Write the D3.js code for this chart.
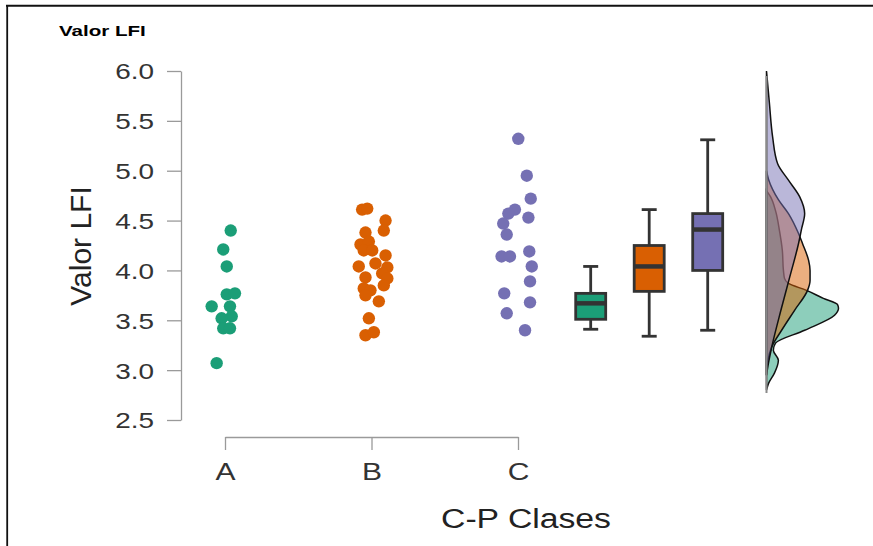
<!DOCTYPE html>
<html>
<head>
<meta charset="utf-8">
<script src="https://cdn.jsdelivr.net/npm/d3@7"></script>
<style>
    body { margin: 0; background: #fff; }
    #chart { width: 873px; height: 546px; }
    text { font-family: "Liberation Sans", Arial, sans-serif; }
</style>
</head>
<body>
<div id="chart"></div>
<script>

// classes and ticks
const categories = ["A", "B", "C"];
const yTicks = [2.5, 3.0, 3.5, 4.0, 4.5, 5.0, 5.5, 6.0];

// raw points: [jitter in class units, Valor LFI]
const pointsA = [
    [0.039, 4.40], [-0.012, 4.21], [0.012, 4.04], [0.012, 3.76], [0.068, 3.77],
    [-0.091, 3.64], [0.034, 3.64], [0.046, 3.54], [-0.023, 3.52], [-0.012, 3.42],
    [0.034, 3.42], [-0.057, 3.07]
];
const pointsB = [
    [-0.064, 4.61], [-0.029, 4.62], [0.096, 4.50], [0.084, 4.40], [-0.041, 4.38],
    [-0.075, 4.26], [-0.018, 4.29], [-0.053, 4.20], [0.005, 4.20], [0.096, 4.15],
    [-0.087, 4.04], [0.027, 4.07], [0.108, 4.03], [-0.041, 3.93], [0.073, 3.97],
    [0.108, 3.92], [0.084, 3.85], [-0.053, 3.82], [-0.007, 3.80], [-0.041, 3.75],
    [0.050, 3.69], [-0.018, 3.52], [-0.041, 3.35], [0.016, 3.38]
];
const pointsC = [
    [0.002, 5.32], [0.060, 4.95], [0.087, 4.72], [-0.021, 4.61], [-0.066, 4.57],
    [0.071, 4.53], [-0.101, 4.47], [-0.077, 4.36], [0.077, 4.19], [-0.112, 4.14],
    [-0.055, 4.14], [0.094, 4.04], [0.082, 3.89], [-0.094, 3.77], [0.082, 3.68],
    [-0.077, 3.57], [0.048, 3.40]
];

// box plot summaries (A, B, C)
const boxMin = [3.41, 3.34, 3.40];
const boxQ1 = [3.51, 3.79, 4.00];
const boxMedian = [3.67, 4.04, 4.41];
const boxQ3 = [3.77, 4.25, 4.57];
const boxMax = [4.04, 4.61, 5.31];

// density profiles: [Valor LFI, density]
const densityA = [
    [4.80, 0], [4.74, 0.11], [4.60, 0.25], [4.40, 0.36], [4.20, 0.44], [4.00, 0.47],
    [3.92, 0.50], [3.87, 0.61], [3.80, 1.11], [3.72, 1.58], [3.66, 1.97], [3.62, 2.00],
    [3.55, 1.89], [3.40, 1.06], [3.27, 0.25], [3.20, 0.19], [3.10, 0.33], [2.97, 0.22],
    [2.87, 0.06], [2.80, 0]
];
const densityB = [
    [5.00, 0], [4.91, 0.06], [4.71, 0.33], [4.57, 0.61], [4.37, 0.89], [4.27, 1.00],
    [4.10, 1.17], [4.00, 1.21], [3.90, 1.21], [3.80, 1.14], [3.60, 0.78], [3.40, 0.42],
    [3.23, 0.14], [3.10, 0.04], [2.95, 0]
];
const densityC = [
    [6.00, 0], [5.68, 0.08], [5.34, 0.17], [5.07, 0.31], [4.91, 0.60], [4.74, 0.92],
    [4.57, 1.06], [4.41, 0.97], [4.27, 0.89], [3.94, 0.65], [3.60, 0.40], [3.27, 0.17],
    [3.10, 0.07], [2.95, 0]
];

const palette = ["#1b9e77", "#d95f02", "#7570b3"];


class RaincloudVis {

    constructor(parentElement) {
        this.parentElement = parentElement;
        this.points = [pointsA, pointsB, pointsC];
        this.densities = [densityA, densityB, densityC];
        this.initVis();
    }

    initVis() {
        let vis = this;

        vis.width = 873;
        vis.height = 546;

        vis.svg = d3.select(vis.parentElement).append("svg")
            .attr("width", vis.width)
            .attr("height", vis.height);

        // frame of the panel (top and left edge only are visible)
        vis.svg.append("line")
            .attr("x1", 6).attr("x2", vis.width).attr("y1", 5.8).attr("y2", 5.8)
            .attr("stroke", "#111").attr("stroke-width", 2);
        vis.svg.append("line")
            .attr("x1", 7.2).attr("x2", 7.2).attr("y1", 5).attr("y2", vis.height)
            .attr("stroke", "#111").attr("stroke-width", 1.8);

        // scales
        vis.yScale = d3.scaleLinear().domain([2.5, 6.0]).range([420, 71]);
        vis.xScale = d3.scaleLinear().domain([0, 2]).range([225, 518]);
        vis.xScaleAxis = d3.scalePoint().domain(categories).range([225, 518]);
        vis.boxScale = d3.scalePoint().domain(categories).range([590.7, 707.7]);
        vis.densScale = d3.scaleLinear().domain([0, 2]).range([766.5, 838.5]);

        // y axis
        vis.yAxis = d3.axisLeft(vis.yScale)
            .tickValues(yTicks)
            .tickFormat(d3.format(".1f"))
            .tickSizeInner(14)
            .tickSizeOuter(0);

        vis.svg.append("g")
            .attr("class", "y-axis axis")
            .attr("transform", "translate(181,0)")
            .call(vis.yAxis);

        vis.svg.select(".y-axis").selectAll("text")
            .attr("x", -27 / 1.27)
            .attr("dy", "0.36em")
            .attr("transform", "scale(1.27,1)")
            .attr("font-size", 22)
            .attr("fill", "#333");

        // x axis
        vis.xAxis = d3.axisBottom(vis.xScaleAxis)
            .tickSizeInner(13)
            .tickSizeOuter(0)
            .tickPadding(13);

        vis.svg.append("g")
            .attr("class", "x-axis axis")
            .attr("transform", "translate(0,437)")
            .call(vis.xAxis);

        vis.svg.select(".x-axis").selectAll("text")
            .attr("transform", "scale(1.25,1)")
            .attr("font-size", 24)
            .attr("fill", "#333");

        vis.svg.selectAll(".axis path, .axis line")
            .attr("stroke", "#9a9a9a")
            .attr("stroke-width", 1.3);

        // axis titles
        vis.svg.append("text")
            .attr("transform", "translate(90.5,246)rotate(-90)")
            .attr("text-anchor", "middle")
            .attr("font-size", 30)
            .attr("fill", "#222")
            .text("Valor LFI");

        vis.svg.append("text")
            .attr("transform", "translate(526,528)scale(1.25,1)")
            .attr("text-anchor", "middle")
            .attr("font-size", 27)
            .attr("fill", "#222")
            .text("C-P Clases");

        vis.svg.append("text")
            .attr("transform", "translate(59,36)scale(1.37,1)")
            .attr("font-size", 15)
            .attr("font-weight", "bold")
            .attr("fill", "#000")
            .text("Valor LFI");

        vis.wrangleData();
    }

    wrangleData() {
        let vis = this;

        vis.dotData = [];
        vis.points.forEach((arr, i) => {
            arr.forEach(p => vis.dotData.push({ cls: i, jitter: p[0], value: p[1] }));
        });

        vis.boxData = categories.map((c, i) => ({
            key: c, cls: i,
            min: boxMin[i], q1: boxQ1[i], median: boxMedian[i], q3: boxQ3[i], max: boxMax[i]
        }));

        vis.updateVis();
    }

    updateVis() {
        let vis = this;

        // densities (drawn green, orange, purple so the blends match)
        let area = d3.area()
            .y(d => vis.yScale(d[0]))
            .x0(vis.densScale(0))
            .x1(d => vis.densScale(d[1]))
            .curve(d3.curveMonotoneY);

        vis.svg.selectAll(".density")
            .data(vis.densities)
            .enter()
            .append("path")
            .attr("class", "density")
            .attr("d", d => area(d))
            .attr("fill", (d, i) => palette[i])
            .attr("fill-opacity", 0.5)
            .attr("stroke", "#111")
            .attr("stroke-width", 1.5);

        vis.svg.append("line")
            .attr("x1", vis.densScale(0)).attr("x2", vis.densScale(0))
            .attr("y1", 76).attr("y2", 393)
            .attr("stroke", "#8a8a8a")
            .attr("stroke-width", 2);

        // raw points
        vis.svg.selectAll(".mycircle")
            .data(vis.dotData)
            .enter()
            .append("circle")
            .attr("class", "mycircle")
            .attr("cx", d => vis.xScale(d.cls + d.jitter))
            .attr("cy", d => vis.yScale(d.value))
            .attr("r", 6.2)
            .attr("fill", d => palette[d.cls]);

        // box plots
        let boxW = 30, capW = 15;
        let boxes = vis.svg.selectAll(".box")
            .data(vis.boxData)
            .enter()
            .append("g")
            .attr("class", "box")
            .attr("transform", d => "translate(" + vis.boxScale(d.key) + ",0)");

        boxes.append("line")
            .attr("y1", d => vis.yScale(d.max)).attr("y2", d => vis.yScale(d.q3))
            .attr("stroke", "#333").attr("stroke-width", 2.8);
        boxes.append("line")
            .attr("y1", d => vis.yScale(d.q1)).attr("y2", d => vis.yScale(d.min))
            .attr("stroke", "#333").attr("stroke-width", 2.8);
        boxes.append("line")
            .attr("x1", -capW / 2).attr("x2", capW / 2)
            .attr("y1", d => vis.yScale(d.max)).attr("y2", d => vis.yScale(d.max))
            .attr("stroke", "#333").attr("stroke-width", 2.8);
        boxes.append("line")
            .attr("x1", -capW / 2).attr("x2", capW / 2)
            .attr("y1", d => vis.yScale(d.min)).attr("y2", d => vis.yScale(d.min))
            .attr("stroke", "#333").attr("stroke-width", 2.8);

        boxes.append("rect")
            .attr("x", -boxW / 2)
            .attr("width", boxW)
            .attr("y", d => vis.yScale(d.q3))
            .attr("height", d => vis.yScale(d.q1) - vis.yScale(d.q3))
            .attr("fill", d => palette[d.cls])
            .attr("stroke", "#333")
            .attr("stroke-width", 2.8);

        boxes.append("line")
            .attr("x1", -boxW / 2).attr("x2", boxW / 2)
            .attr("y1", d => vis.yScale(d.median)).attr("y2", d => vis.yScale(d.median))
            .attr("stroke", "#333").attr("stroke-width", 4.5);
    }
}

new RaincloudVis(document.getElementById("chart"));

</script>
</body>
</html>
